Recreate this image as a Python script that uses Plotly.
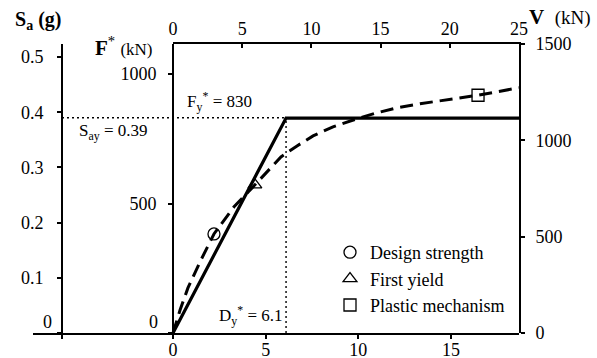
import plotly.graph_objects as go

# ---------------- data ----------------
# idealised bilinear SDOF curve (D*, F*)
D_BIL = [0, 6.1, 18.7]
F_BIL = [0, 830, 830]
DY = 6.1
FY = 830
SAY = 0.39

# pushover curve (top displacement, base shear V)
U_PUSH = [0, 0.51, 1.08, 1.95, 2.96, 4.41, 5.92, 7.80, 8.96, 10.12, 11.56,
          13.29, 14.74, 16.18, 17.85, 19.80, 22.04, 25.0]
V_PUSH = [0, 119, 234, 369, 514, 655, 769, 914, 971, 1023, 1070,
          1112, 1143, 1169, 1190, 1210, 1234, 1273]

MARK_NAMES = ["Design strength", "First yield", "Plastic mechanism"]
MARK_U = [2.96, 5.92, 22.04]
MARK_V = [514, 769, 1234]
MARK_SYMBOLS = ["circle-open", "triangle-up-open", "square-open"]

D_TICKS = [0, 5, 10, 15]
U_TICKS = [0, 5, 10, 15, 20, 25]
F_TICKS = [0, 500, 1000]
V_TICKS = [0, 500, 1000, 1500]
SA_TICKS = [0, 0.1, 0.2, 0.3, 0.4, 0.5]

# ---------------- geometry ----------------
W, H = 597, 358
X_LINE_L = 33      # left end of bottom axis line (px)
SA_X = 62          # Sa axis (px)
F_X = 173          # F* axis / D*=0 (px)
R_X = 519          # right axis (px)
Y_BOT = 333
Y_TOP = 44

D_MAX = 18.67
D_SCALE = (R_X - F_X) / D_MAX
D_MIN = -(F_X - X_LINE_L) / D_SCALE
D_AT_SA = -(F_X - SA_X) / D_SCALE
F_MAX = 1116
V_MAX = 1500
SA_MAX = 0.5236
U_MAX = 25

YDOM = [(H - Y_BOT) / H, (H - Y_TOP) / H]
FONT = "Liberation Serif"
BLACK = "black"

fig = go.Figure()

# dotted reference lines
fig.add_trace(go.Scatter(x=[D_AT_SA, DY], y=[SAY, SAY], xaxis="x", yaxis="y3",
                         mode="lines", line=dict(color=BLACK, width=1.4, dash="2px,3px"),
                         showlegend=False, hoverinfo="skip"))
fig.add_trace(go.Scatter(x=[DY, DY], y=[0, FY], xaxis="x", yaxis="y",
                         mode="lines", line=dict(color=BLACK, width=1.4, dash="2px,3px"),
                         showlegend=False, hoverinfo="skip"))
# bilinear
fig.add_trace(go.Scatter(x=D_BIL, y=F_BIL, xaxis="x", yaxis="y", mode="lines",
                         line=dict(color=BLACK, width=3.2), showlegend=False))
# pushover
fig.add_trace(go.Scatter(x=U_PUSH, y=V_PUSH, xaxis="x2", yaxis="y2", mode="lines",
                         line=dict(color=BLACK, width=3, dash="13px,7px"),
                         showlegend=False))
for n, u, v, s in zip(MARK_NAMES, MARK_U, MARK_V, MARK_SYMBOLS):
    fig.add_trace(go.Scatter(x=[u], y=[v], xaxis="x2", yaxis="y2", mode="markers",
                             name=n, marker=dict(symbol=s, size=12, color=BLACK,
                                                 line=dict(color=BLACK, width=1.3)),
                             showlegend=True))

tickfont = dict(family=FONT, size=18, color=BLACK)
common = dict(showgrid=False, zeroline=False, linecolor=BLACK, linewidth=1.8,
              tickcolor=BLACK, tickwidth=1.5, ticklen=4, tickfont=tickfont,
              tickmode="array", automargin=False)
twin = dict(showgrid=False, zeroline=False, showline=False, showticklabels=False,
            tickcolor=BLACK, tickwidth=1.5, ticklen=4, tickmode="array",
            automargin=False)

fig.update_layout(
    template="none",
    width=W, height=H, margin=dict(l=0, r=0, t=0, b=0, pad=0), autosize=False,
    paper_bgcolor="white", plot_bgcolor="rgba(0,0,0,0)",
    font=dict(family=FONT, size=17, color=BLACK),
    xaxis=dict(domain=[X_LINE_L / W, R_X / W], range=[D_MIN, D_MAX], anchor="y",
               showline=True, ticks="outside", tickvals=D_TICKS + [D_AT_SA],
               ticktext=[str(t) for t in D_TICKS] + [""], ticklabelstandoff=-5, **common),
    xaxis3=dict(overlaying="x", anchor="y", range=[D_MIN, D_MAX], tickvals=D_TICKS,
                ticks="inside", **twin),
    xaxis2=dict(domain=[F_X / W, R_X / W], range=[0, U_MAX], anchor="y2", side="top",
                showline=True, ticks="inside", tickvals=U_TICKS,
                ticktext=[str(t) for t in U_TICKS], ticklabelstandoff=0, **common),
    xaxis4=dict(overlaying="x2", anchor="y2", side="top", range=[0, U_MAX],
                tickvals=U_TICKS, ticks="outside", **twin),
    yaxis=dict(domain=YDOM, range=[0, F_MAX], anchor="free", position=F_X / W,
               showline=True, ticks="outside", tickvals=F_TICKS,
               ticktext=["" if t == 0 else str(t) for t in F_TICKS],
               ticklabelstandoff=8, **common),
    yaxis4=dict(overlaying="y", anchor="free", position=F_X / W, range=[0, F_MAX],
                tickvals=F_TICKS, ticks="inside", **twin),
    yaxis2=dict(domain=YDOM, range=[0, V_MAX], anchor="x2", side="right",
                showline=True, ticks="outside", tickvals=V_TICKS,
                ticktext=[str(t) for t in V_TICKS], ticklabelstandoff=7, **common),
    yaxis5=dict(overlaying="y2", anchor="x2", side="right", range=[0, V_MAX],
                tickvals=V_TICKS, ticks="inside", **twin),
    yaxis3=dict(overlaying="y", anchor="free", position=SA_X / W, range=[0, SA_MAX],
                showline=True, ticks="outside", tickvals=SA_TICKS,
                ticktext=["" if t == 0 else f"{t:.1f}" for t in SA_TICKS],
                ticklabelstandoff=10, **common),
    yaxis6=dict(overlaying="y", anchor="free", position=SA_X / W, range=[0, SA_MAX],
                tickvals=SA_TICKS, ticks="inside", **twin),
    legend=dict(x=330 / W, y=(H - 234) / H, xanchor="left", yanchor="top",
                bgcolor="rgba(0,0,0,0)", borderwidth=0,
                font=dict(family=FONT, size=18, color=BLACK)),
    showlegend=True,
)

def ann(text, x, y, size=17, xanchor="left", **kw):
    fig.add_annotation(text=text, x=x / W, y=(H - y) / H, xref="paper", yref="paper",
                       xanchor=xanchor, yanchor="middle", showarrow=False,
                       font=dict(family=FONT, size=size, color=BLACK), **kw)

ann("F<sub>y</sub><sup>*</sup> = 830", 185, 102)
ann("S<sub>ay</sub> = 0.39", 77, 132)
ann("D<sub>y</sub><sup>*</sup> = 6.1", 217, 315)
ann("0", 47, 322, size=18, xanchor="center")
ann("0", 153, 322, size=18, xanchor="center")
ann("<b>S<sub>a</sub> (g)</b>", 38, 20, size=20, xanchor="center")
ann("<b>F</b><sup>*</sup> <span style='font-size:17px'>(kN)</span>", 93, 46, size=21)
ann("<b>V</b>  <span style='font-size:19px'>(kN)</span>", 527, 17, size=21)

fig.write_html("out.html")
